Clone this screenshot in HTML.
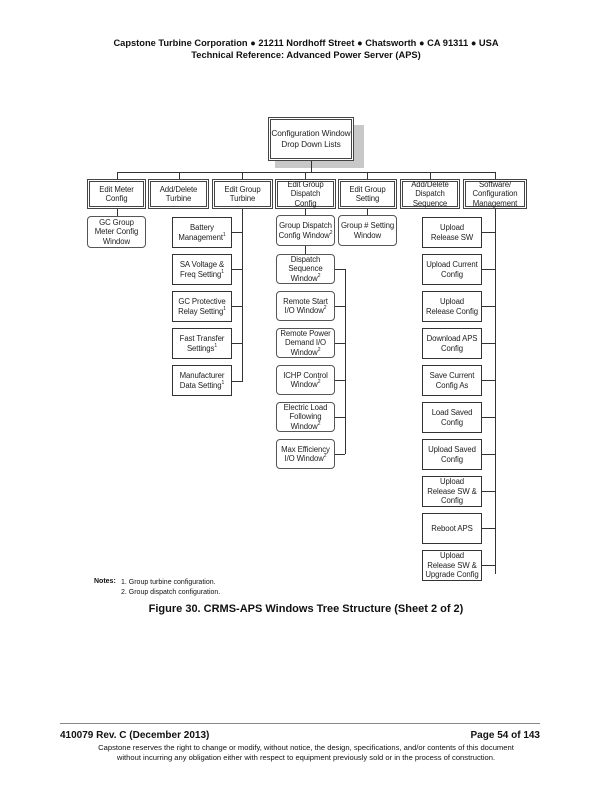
<!DOCTYPE html>
<html><head><meta charset="utf-8"><style>
body{margin:0;background:#fff}
#p{position:relative;width:612px;height:792px;background:#fff;font-family:"Liberation Sans",Arial,sans-serif;color:#111;overflow:hidden}
.t{position:absolute;white-space:nowrap}
.b{position:absolute;box-sizing:border-box;display:flex;align-items:center;justify-content:center;text-align:center;font-size:7.8px;line-height:9.5px;color:#222;background:#fff;white-space:nowrap;letter-spacing:-0.1px}
.b span{display:block}
.d{border:3px double #444}
.s{border:1.5px solid #333}
.r{border:1px solid #555;border-radius:4px}
.l{position:absolute;background:#333}
sup{font-size:5px;vertical-align:4px;line-height:0}
</style></head><body><div id="p">
<div class="t" style="left:0;width:612px;text-align:center;top:37px;font-size:9.3px;font-weight:bold;line-height:12px">Capstone Turbine Corporation ● 21211 Nordhoff Street ● Chatsworth ● CA 91311 ● USA<br>Technical Reference: Advanced Power Server (APS)</div>

<div style="position:absolute;left:275px;top:125px;width:89px;height:43px;background:#c8c8c8"></div>
<div class="b d" style="left:268px;top:117px;width:86px;height:44px;font-size:8.3px;line-height:11px"><span>Configuration Window<br>Drop Down Lists</span></div>

<div class="l" style="left:311px;top:161px;width:1px;height:12px"></div>
<div class="l" style="left:117px;top:172px;width:379px;height:1px"></div>
<div class="l" style="left:117px;top:172px;width:1px;height:8px"></div>
<div class="l" style="left:179px;top:172px;width:1px;height:8px"></div>
<div class="l" style="left:242px;top:172px;width:1px;height:8px"></div>
<div class="l" style="left:305px;top:172px;width:1px;height:8px"></div>
<div class="l" style="left:367px;top:172px;width:1px;height:8px"></div>
<div class="l" style="left:430px;top:172px;width:1px;height:8px"></div>
<div class="l" style="left:495px;top:172px;width:1px;height:8px"></div>

<div class="b d" style="left:87px;top:179px;width:59px;height:30px"><span>Edit Meter<br>Config</span></div>
<div class="b d" style="left:148px;top:179px;width:61px;height:30px"><span>Add/Delete<br>Turbine</span></div>
<div class="b d" style="left:212px;top:179px;width:61px;height:30px"><span>Edit Group<br>Turbine</span></div>
<div class="b d" style="left:275px;top:179px;width:61px;height:30px"><span>Edit Group<br>Dispatch<br>Config</span></div>
<div class="b d" style="left:338px;top:179px;width:59px;height:30px"><span>Edit Group<br>Setting</span></div>
<div class="b d" style="left:400px;top:179px;width:60px;height:30px"><span>Add/Delete<br>Dispatch<br>Sequence</span></div>
<div class="b d" style="left:463px;top:179px;width:64px;height:30px"><span>Software/<br>Configuration<br>Management</span></div>

<div class="l" style="left:117px;top:209px;width:1px;height:8px"></div>
<div class="b r" style="left:87px;top:216px;width:59px;height:32px"><span>GC Group<br>Meter Config<br>Window</span></div>

<div class="l" style="left:242px;top:209px;width:1px;height:173px"></div>
<div class="b s" style="left:172px;top:217px;width:60px;height:31px"><span>Battery<br>Management<sup>1</sup></span></div>
<div class="b s" style="left:172px;top:254px;width:60px;height:31px"><span>SA Voltage &amp;<br>Freq Setting<sup>1</sup></span></div>
<div class="b s" style="left:172px;top:291px;width:60px;height:31px"><span>GC Protective<br>Relay Setting<sup>1</sup></span></div>
<div class="b s" style="left:172px;top:328px;width:60px;height:31px"><span>Fast Transfer<br>Settings<sup>1</sup></span></div>
<div class="b s" style="left:172px;top:365px;width:60px;height:31px"><span>Manufacturer<br>Data Setting<sup>1</sup></span></div>
<div class="l" style="left:232px;top:232px;width:10px;height:1px"></div>
<div class="l" style="left:232px;top:269px;width:10px;height:1px"></div>
<div class="l" style="left:232px;top:306px;width:10px;height:1px"></div>
<div class="l" style="left:232px;top:343px;width:10px;height:1px"></div>
<div class="l" style="left:232px;top:381px;width:10px;height:1px"></div>

<div class="l" style="left:305px;top:209px;width:1px;height:7px"></div>
<div class="b r" style="left:276px;top:215px;width:59px;height:31px"><span>Group Dispatch<br>Config Window<sup>2</sup></span></div>
<div class="l" style="left:305px;top:246px;width:1px;height:8px"></div>
<div class="b r" style="left:276px;top:254px;width:59px;height:30px"><span>Dispatch<br>Sequence<br>Window<sup>2</sup></span></div>
<div class="l" style="left:335px;top:269px;width:10px;height:1px"></div>
<div class="l" style="left:345px;top:269px;width:1px;height:185px"></div>
<div class="b r" style="left:276px;top:291px;width:59px;height:30px"><span>Remote Start<br>I/O Window<sup>2</sup></span></div>
<div class="b r" style="left:276px;top:328px;width:59px;height:30px"><span>Remote Power<br>Demand I/O<br>Window<sup>2</sup></span></div>
<div class="b r" style="left:276px;top:365px;width:59px;height:30px"><span>ICHP Control<br>Window<sup>2</sup></span></div>
<div class="b r" style="left:276px;top:402px;width:59px;height:30px"><span>Electric Load<br>Following<br>Window<sup>2</sup></span></div>
<div class="b r" style="left:276px;top:439px;width:59px;height:30px"><span>Max Efficiency<br>I/O Window<sup>2</sup></span></div>
<div class="l" style="left:335px;top:306px;width:10px;height:1px"></div>
<div class="l" style="left:335px;top:343px;width:10px;height:1px"></div>
<div class="l" style="left:335px;top:380px;width:10px;height:1px"></div>
<div class="l" style="left:335px;top:417px;width:10px;height:1px"></div>
<div class="l" style="left:335px;top:454px;width:10px;height:1px"></div>

<div class="l" style="left:367px;top:209px;width:1px;height:7px"></div>
<div class="b r" style="left:338px;top:215px;width:59px;height:31px"><span>Group # Setting<br>Window</span></div>

<div class="l" style="left:495px;top:209px;width:1px;height:365px"></div>
<div class="b s" style="left:422px;top:217px;width:60px;height:31px"><span>Upload<br>Release SW</span></div>
<div class="b s" style="left:422px;top:254px;width:60px;height:31px"><span>Upload Current<br>Config</span></div>
<div class="b s" style="left:422px;top:291px;width:60px;height:31px"><span>Upload<br>Release Config</span></div>
<div class="b s" style="left:422px;top:328px;width:60px;height:31px"><span>Download APS<br>Config</span></div>
<div class="b s" style="left:422px;top:365px;width:60px;height:31px"><span>Save Current<br>Config As</span></div>
<div class="b s" style="left:422px;top:402px;width:60px;height:31px"><span>Load Saved<br>Config</span></div>
<div class="b s" style="left:422px;top:439px;width:60px;height:31px"><span>Upload Saved<br>Config</span></div>
<div class="b s" style="left:422px;top:476px;width:60px;height:31px"><span>Upload<br>Release SW &amp;<br>Config</span></div>
<div class="b s" style="left:422px;top:513px;width:60px;height:31px"><span>Reboot APS</span></div>
<div class="b s" style="left:422px;top:550px;width:60px;height:31px"><span>Upload<br>Release SW &amp;<br>Upgrade Config</span></div>
<div class="l" style="left:482px;top:232px;width:13px;height:1px"></div>
<div class="l" style="left:482px;top:269px;width:13px;height:1px"></div>
<div class="l" style="left:482px;top:306px;width:13px;height:1px"></div>
<div class="l" style="left:482px;top:343px;width:13px;height:1px"></div>
<div class="l" style="left:482px;top:380px;width:13px;height:1px"></div>
<div class="l" style="left:482px;top:417px;width:13px;height:1px"></div>
<div class="l" style="left:482px;top:454px;width:13px;height:1px"></div>
<div class="l" style="left:482px;top:491px;width:13px;height:1px"></div>
<div class="l" style="left:482px;top:528px;width:13px;height:1px"></div>
<div class="l" style="left:482px;top:565px;width:13px;height:1px"></div>

<div class="t" style="left:94px;top:578px;font-size:7px;font-weight:bold">Notes:</div>
<div class="t" style="left:121px;top:578px;font-size:7px;line-height:10px">1. Group turbine configuration.<br>2. Group dispatch configuration.</div>
<div class="t" style="left:0;width:612px;text-align:center;top:603px;font-size:11px;font-weight:bold">Figure 30. CRMS-APS Windows Tree Structure (Sheet 2 of 2)</div>

<div class="l" style="left:60px;top:723px;width:480px;height:1px;background:#888"></div>
<div class="t" style="left:60px;top:730px;font-size:10px;font-weight:bold">410079 Rev. C (December 2013)</div>
<div class="t" style="right:72px;top:730px;font-size:10px;font-weight:bold">Page 54 of 143</div>
<div class="t" style="left:0;width:612px;text-align:center;top:743px;font-size:7.6px;line-height:10px">Capstone reserves the right to change or modify, without notice, the design, specifications, and/or contents of this document<br>without incurring any obligation either with respect to equipment previously sold or in the process of construction.</div>
</div></body></html>
